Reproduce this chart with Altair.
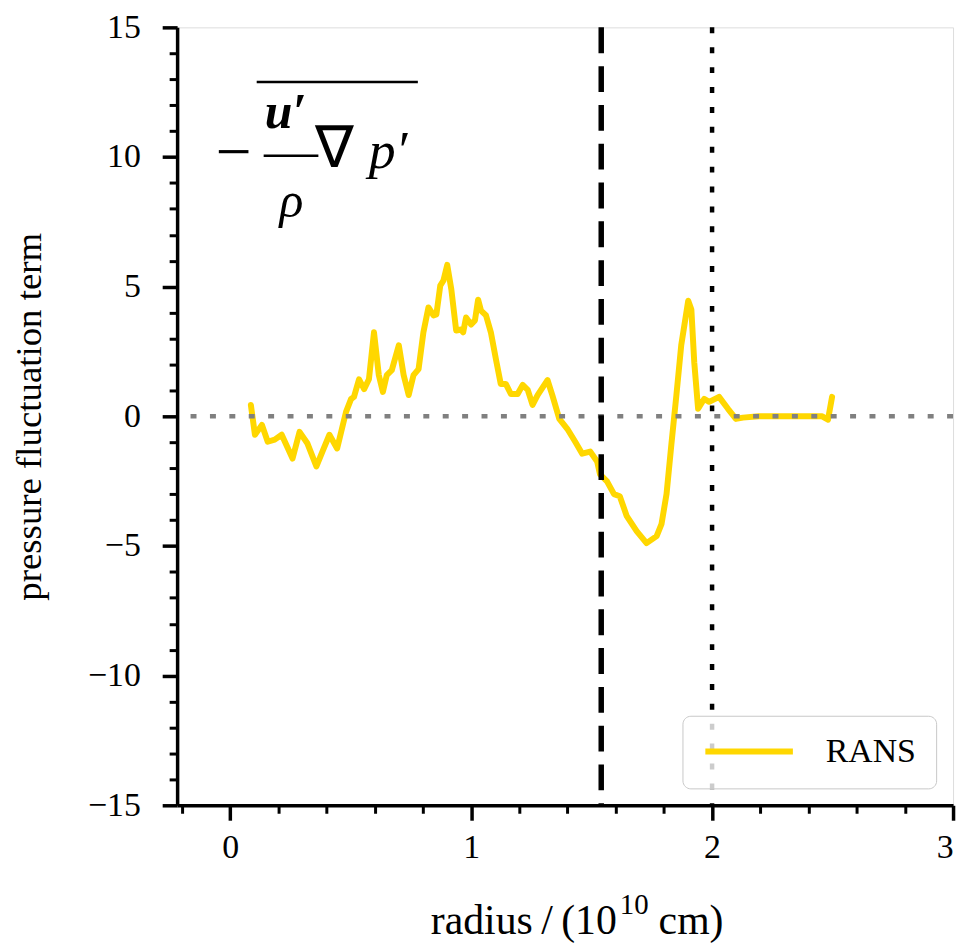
import altair as alt
import pandas as pd

# ---- data ----
radius = [0.086, 0.103, 0.132, 0.156, 0.185, 0.214, 0.259, 0.288, 0.321, 0.358,
          0.383, 0.412, 0.444, 0.481, 0.502, 0.514, 0.535, 0.556, 0.576, 0.597,
          0.617, 0.634, 0.650, 0.671, 0.700, 0.720, 0.741, 0.761, 0.782, 0.802,
          0.823, 0.844, 0.856, 0.872, 0.885, 0.901, 0.918, 0.938, 0.959, 0.967,
          0.979, 1.000, 1.016, 1.029, 1.041, 1.062, 1.082, 1.103, 1.123, 1.144,
          1.165, 1.193, 1.214, 1.235, 1.255, 1.276, 1.317, 1.337, 1.366, 1.399,
          1.432, 1.461, 1.494, 1.523, 1.535, 1.564, 1.593, 1.617, 1.646, 1.687,
          1.728, 1.770, 1.790, 1.811, 1.831, 1.852, 1.872, 1.901, 1.914, 1.926,
          1.942, 1.967, 1.988, 2.029, 2.066, 2.099, 2.128, 2.193, 2.457, 2.481,
          2.498]
pressure = [0.44, -0.71, -0.33, -0.98, -0.90, -0.71, -1.63, -0.60, -1.05, -1.93,
            -1.36, -0.71, -1.24, 0.17, 0.67, 0.75, 1.43, 1.05, 1.43, 3.24,
            1.59, 0.94, 1.59, 1.78, 2.74, 1.59, 0.82, 1.59, 1.82, 3.24,
            4.20, 3.89, 3.93, 5.04, 5.23, 5.84, 4.89, 3.31, 3.35, 3.24,
            3.81, 3.54, 3.70, 4.50, 4.08, 3.89, 3.24, 2.20, 1.25, 1.25,
            0.86, 0.86, 1.21, 1.02, 0.44, 0.82, 1.40, 0.82, -0.10, -0.48,
            -0.98, -1.44, -1.36, -1.74, -2.24, -2.51, -3.00, -3.08, -3.85, -4.43,
            -4.89, -4.62, -4.16, -3.00, -1.09, 0.82, 2.74, 4.46, 4.12, 2.09,
            0.29, 0.67, 0.56, 0.75, 0.29, -0.10, -0.05, 0.00, 0.00, -0.13,
            0.75]
series_name = ["RANS"]
zero_level = [0]
boundary_dashed = [1.54]
boundary_dotted = [2.0]

x_major = [0, 1, 2, 3]
x_minor = [-0.2, 0.2, 0.4, 0.6, 0.8, 1.2, 1.4, 1.6, 1.8, 2.2, 2.4, 2.6, 2.8]
y_major = [-15, -10, -5, 0, 5, 10, 15]
y_minor = [v for v in range(-14, 15) if v % 5 != 0]

x_title_parts = ["radius\u2009/\u2009(10", "10", "cm)"]
y_title = "pressure fluctuation term"

XDOM = [-0.22, 3.0]
YDOM = [-15, 15]

df = pd.DataFrame({"radius": radius, "value": pressure, "series": series_name[0]})

FONT = "Liberation Serif"
MINUS_EXPR = "datum.value < 0 ? '\u2212' + format(-datum.value, 'd') : datum.label"

xs = alt.Scale(domain=XDOM, nice=False, zero=False)
ys = alt.Scale(domain=YDOM, nice=False, zero=False)

curve = alt.Chart(df).mark_line(strokeWidth=6, strokeJoin="round", strokeCap="round").encode(
    x=alt.X("radius:Q", scale=xs, axis=alt.Axis(
        values=x_major, orient="bottom", title=None,
        tickSize=15, tickWidth=3.5, tickColor="black",
        domainWidth=3.5, domainColor="black", grid=False,
        labelFont=FONT, labelFontSize=34, labelColor="black", labelPadding=10,
        labelExpr=MINUS_EXPR)),
    y=alt.Y("value:Q", scale=ys, axis=alt.Axis(
        values=y_major, orient="left", title=y_title,
        tickSize=15, tickWidth=3.5, tickColor="black",
        domainWidth=3.5, domainColor="black", grid=False,
        labelFont=FONT, labelFontSize=34, labelColor="black", labelPadding=22,
        labelExpr=MINUS_EXPR,
        titleFont=FONT, titleFontSize=37, titleFontWeight="normal", titleColor="black",
        titlePadding=39)),
    color=alt.Color("series:N", scale=alt.Scale(domain=series_name, range=["#FFD700"]),
                    legend=alt.Legend(title=None, orient="bottom-right", offset=17,
                                      symbolType="stroke", symbolSize=7744,
                                      symbolStrokeWidth=6, clipHeight=32,
                                      labelFont=FONT, labelFontSize=34, labelColor="black",
                                      labelOffset=30, padding=20,
                                      fillColor="rgba(255,255,255,0.8)",
                                      strokeColor="#c8c8c8", cornerRadius=8)),
)

minor = alt.Chart(df).mark_point(opacity=0).encode(
    x=alt.X("radius:Q", scale=xs, axis=alt.Axis(
        values=x_minor, orient="bottom", title=None, labels=False, domain=False,
        grid=False, tickSize=8, tickWidth=3, tickColor="black")),
    y=alt.Y("value:Q", scale=ys, axis=alt.Axis(
        values=y_minor, orient="left", title=None, labels=False, domain=False,
        grid=False, tickSize=8, tickWidth=3, tickColor="black")),
)

zero = alt.Chart(pd.DataFrame({"y": zero_level})).mark_rule(
    color="#808080", strokeWidth=4.5, strokeDash=[6, 13.5]
).encode(y=alt.Y("y:Q", scale=ys, axis=None))

dashed = alt.Chart(pd.DataFrame({"x": boundary_dashed})).mark_rule(
    color="black", strokeWidth=5.5, strokeDash=[26, 13]
).encode(x=alt.X("x:Q", scale=xs, axis=None))

dotted = alt.Chart(pd.DataFrame({"x": boundary_dotted})).mark_rule(
    color="black", strokeWidth=4.5, strokeDash=[6, 14]
).encode(x=alt.X("x:Q", scale=xs, axis=None))


def txt(s, x, y, size, style="normal", weight="normal", align="center", baseline="middle"):
    return alt.Chart(pd.DataFrame({"t": [s]})).mark_text(
        font=FONT, fontSize=size, fontStyle=style, fontWeight=weight,
        align=align, baseline=baseline, color="black"
    ).encode(text="t:N", x=alt.value(x), y=alt.value(y))


# ---- x axis title with a real superscript ----
t_main = txt(x_title_parts[0], 442, 911, 42, align="right", baseline="alphabetic")
t_sup = txt(x_title_parts[1], 445, 891, 29, align="left", baseline="alphabetic")
t_unit = txt(x_title_parts[2], 484, 911, 42, align="left", baseline="alphabetic")

# ---- formula annotation:  -( u'/rho ∇p' ) with overline ----
f_minus = txt("\u2212", 57, 127, 64)
f_u = txt("u\u2032", 109, 86, 50, style="italic", weight="bold")
f_rho = txt("\u03c1", 115, 176, 50, style="italic")
f_nabla = txt("\u2207", 158, 123, 58)
f_p = txt("p\u2032", 212, 125, 54, style="italic")
f_bar = alt.Chart(pd.DataFrame({"k": [0]})).mark_rule(color="black", strokeWidth=2.5).encode(
    x=alt.value(87), x2=alt.value(142), y=alt.value(129))
f_over = alt.Chart(pd.DataFrame({"k": [0]})).mark_rule(color="black", strokeWidth=2.5).encode(
    x=alt.value(80), x2=alt.value(242), y=alt.value(55))

chart = alt.layer(
    minor, curve, zero, dashed, dotted,
    t_main, t_sup, t_unit,
    f_minus, f_u, f_rho, f_nabla, f_p, f_bar, f_over
).resolve_axis(x="independent", y="independent").properties(
    width=780, height=782,
    autosize=alt.AutoSizeParams(type="none"),
    padding={"left": 170, "top": 17, "right": 10, "bottom": 142},
).configure_view(stroke="black", strokeWidth=3.5).configure(background="white")

chart.save("out.html", embed_options={"renderer": "svg", "actions": False})
